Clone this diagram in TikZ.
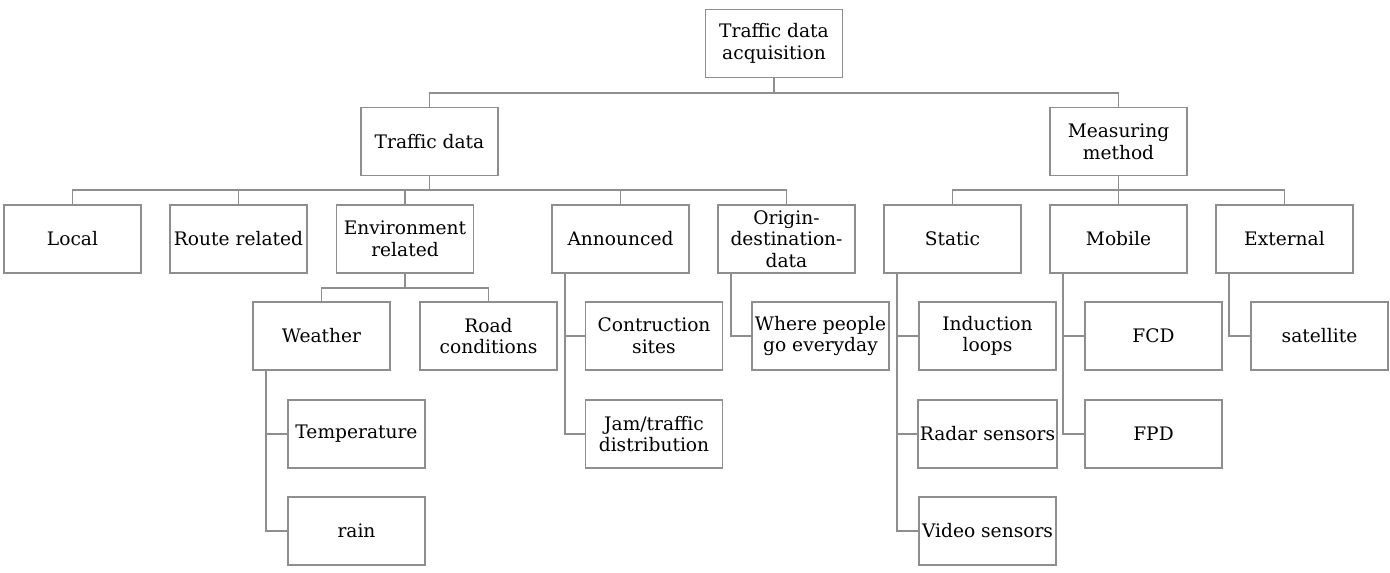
\documentclass[tikz,border=0pt]{standalone}
\usepackage{fontspec}
\setmainfont{DejaVu Serif}

\definecolor{linegray}{HTML}{8E8E8E}
\tikzset{
  box/.style={draw=linegray, line width=1.1pt, minimum width=2.74cm, minimum height=1.36cm,
    align=center, inner sep=1pt, font=\fontsize{10.6}{12.3}\selectfont},
  link/.style={draw=linegray, line width=1.1pt},
}

\begin{document}
\begin{tikzpicture}[x=0.02cm, y=-0.02cm]
      \useasboundingbox (0,0) rectangle (1390,572);
      % top levels
      \node[box] (root) at (774,43.5) {Traffic data\\acquisition};
      \node[box] (tdata) at (429.5,141.5) {Traffic data};
      \node[box] (meas) at (1118.5,141.5) {Measuring\\method};
      % second level
      \node[box] (local) at (72.5,239) {Local};
      \node[box] (route) at (238.5,239) {Route related};
      \node[box] (env) at (405,239) {Environment\\related};
      \node[box] (ann) at (620.5,239) {Announced};
      \node[box] (od) at (786.5,239) {Origin-\\destination-\\data};
      \node[box] (static) at (952.5,239) {Static};
      \node[box] (mobile) at (1118.5,239) {Mobile};
      \node[box] (ext) at (1284.5,239) {External};
      % third level
      \node[box] (weather) at (321.5,336) {Weather};
      \node[box] (road) at (488.5,336) {Road\\conditions};
      \node[box] (constr) at (654,336) {Contruction\\sites};
      \node[box] (where) at (820.5,336) {Where people\\go everyday};
      \node[box] (induct) at (987.5,336) {Induction\\loops};
      \node[box] (fcd) at (1153.5,336) {FCD};
      \node[box] (sat) at (1319.5,336) {satellite};
      % fourth and fifth level
      \node[box] (temp) at (356.5,434) {Temperature};
      \node[box] (jam) at (654,434) {Jam/traffic\\distribution};
      \node[box] (radar) at (987.5,434) {Radar sensors};
      \node[box] (fpd) at (1153.5,434) {FPD};
      \node[box] (rain) at (356.5,531) {rain};
      \node[box] (video) at (987.5,531) {Video sensors};

      % bus junctions
      \coordinate (j0) at (774,93);
      \coordinate (j1) at (429.5,190);
      \coordinate (j2) at (1118.5,190);
      \coordinate (j3) at (405,288);
      \draw[link] (root.south) -- (j0);
      \draw[link] (tdata.north) |- (j0) -| (meas.north);
      \draw[link] (tdata.south) -- (j1);
      \foreach \c in {local,route,env,ann,od}
        \draw[link] (j1) -| (\c.north);
      \draw[link] (meas.south) -- (j2);
      \foreach \c in {static,mobile,ext}
        \draw[link] (j2) -| (\c.north);
      \draw[link] (env.south) -- (j3);
      \foreach \c in {weather,road}
        \draw[link] (j3) -| (\c.north);

      % side branches
      \foreach \p/\c in {weather/temp,weather/rain,ann/constr,ann/jam,od/where,
                         static/induct,static/radar,static/video,mobile/fcd,mobile/fpd,ext/sat}
        \draw[link] (\p.south west) ++(14,0) |- (\c.west);
\end{tikzpicture}
\end{document}
